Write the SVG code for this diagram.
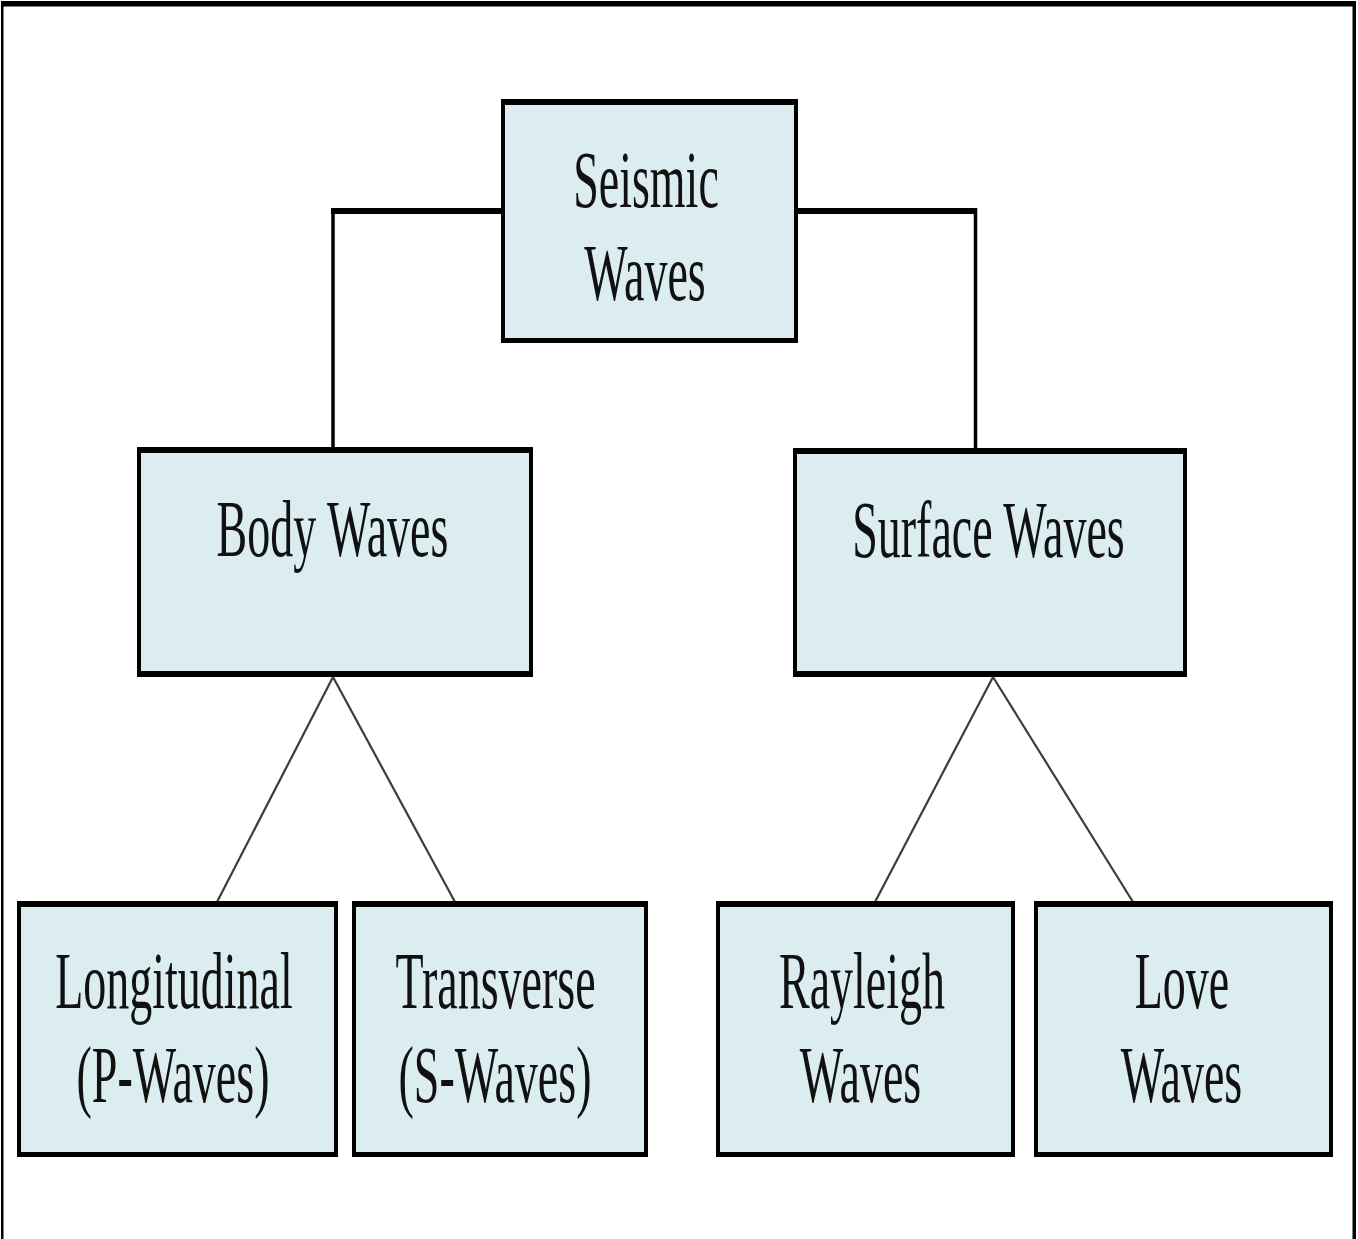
<svg xmlns="http://www.w3.org/2000/svg" width="1358" height="1239" viewBox="0 0 1358 1239">
  <style>
    .edge { fill: #000; }
    .fill { fill: #dbedf1; }
    .lbl { font-family: "Liberation Serif", "Times New Roman", serif; font-size: 46px; fill: #111; text-anchor: middle; }
    .conn { stroke: #000; fill: none; }
    .diag { stroke: #3c3c3c; stroke-width: 2.2; fill: none; }
  </style>
  <rect x="0" y="0" width="1358" height="1239" fill="#fff"/>
  <g id="frame">
    <rect x="1" y="1" width="1355" height="5.5" fill="#000"/>
    <rect x="1" y="1" width="2.5" height="1238" fill="#000"/>
    <rect x="1352.5" y="1" width="3.5" height="1238" fill="#000"/>
  </g>
  <g id="connectors">
    <line class="conn" x1="331" y1="211" x2="502" y2="211" stroke-width="6"/>
    <line class="conn" x1="333" y1="208" x2="333" y2="448" stroke-width="3.5"/>
    <line class="conn" x1="797" y1="211" x2="977" y2="211" stroke-width="6"/>
    <line class="conn" x1="975.5" y1="208" x2="975.5" y2="449" stroke-width="3.5"/>
    <line class="diag" x1="333" y1="677" x2="217" y2="902"/>
    <line class="diag" x1="333" y1="677" x2="455" y2="902"/>
    <line class="diag" x1="993" y1="677" x2="875" y2="902"/>
    <line class="diag" x1="993" y1="677" x2="1133" y2="902"/>
  </g>
  <g id="seismic-waves">
    <rect class="edge" x="501" y="99" width="297" height="244"/>
    <rect class="fill" x="505" y="105" width="289" height="233"/>
    <text class="lbl" transform="translate(646,207) scale(1,1.77)">Seismic</text>
    <text class="lbl" transform="translate(645,300) scale(1,1.77)">Waves</text>
  </g>
  <g id="body-waves">
    <rect class="edge" x="137" y="447" width="396" height="230"/>
    <rect class="fill" x="141" y="453" width="388" height="218"/>
    <text class="lbl" transform="translate(332.5,556) scale(1,1.77)">Body Waves</text>
  </g>
  <g id="surface-waves">
    <rect class="edge" x="793" y="448" width="394" height="229"/>
    <rect class="fill" x="797" y="454" width="386" height="217"/>
    <text class="lbl" transform="translate(988.5,557) scale(1,1.77)">Surface Waves</text>
  </g>
  <g id="longitudinal">
    <rect class="edge" x="17" y="901" width="321" height="256"/>
    <rect class="fill" x="21" y="907" width="313" height="245"/>
    <text class="lbl" transform="translate(174,1008) scale(1,1.77)">Longitudinal</text>
    <text class="lbl" transform="translate(173,1102) scale(1,1.77)">(P-Waves)</text>
  </g>
  <g id="transverse">
    <rect class="edge" x="352" y="901" width="296" height="256"/>
    <rect class="fill" x="356" y="907" width="288" height="245"/>
    <text class="lbl" transform="translate(495.5,1008) scale(1,1.77)">Transverse</text>
    <text class="lbl" transform="translate(495,1102) scale(1,1.77)">(S-Waves)</text>
  </g>
  <g id="rayleigh-waves">
    <rect class="edge" x="716" y="901" width="299" height="256"/>
    <rect class="fill" x="720" y="907" width="291" height="245"/>
    <text class="lbl" transform="translate(862,1008) scale(1,1.77)">Rayleigh</text>
    <text class="lbl" transform="translate(860.5,1102) scale(1,1.77)">Waves</text>
  </g>
  <g id="love-waves">
    <rect class="edge" x="1034" y="901" width="299" height="256"/>
    <rect class="fill" x="1038" y="907" width="291" height="245"/>
    <text class="lbl" transform="translate(1182,1008) scale(1,1.77)">Love</text>
    <text class="lbl" transform="translate(1181.5,1102) scale(1,1.77)">Waves</text>
  </g>
</svg>
